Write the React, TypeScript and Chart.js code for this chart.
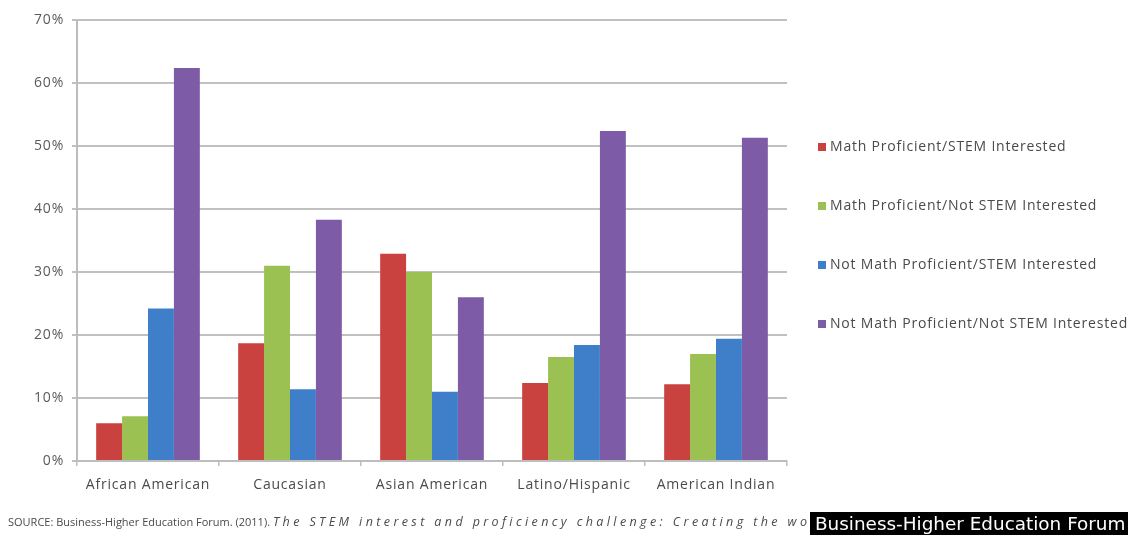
import React, { useEffect, useRef } from "react";
import { Chart, registerables } from "chart.js";

Chart.register(...registerables);

const categories = ["African American", "Caucasian", "Asian American", "Latino/Hispanic", "American Indian"];
const seriesNames = [
  "Math Proficient/STEM Interested",
  "Math Proficient/Not STEM Interested",
  "Not Math Proficient/STEM Interested",
  "Not Math Proficient/Not STEM Interested",
];
const mathStem = [6.0, 18.7, 32.9, 12.4, 12.2];
const mathNotStem = [7.1, 31.0, 30.0, 16.5, 17.0];
const notMathStem = [24.2, 11.4, 11.0, 18.4, 19.4];
const notMathNotStem = [62.4, 38.3, 26.0, 52.4, 51.3];
const seriesColors = ["#C9423F", "#9BC152", "#3F7FC9", "#7E5BA6"];
const yTicks = [0, 10, 20, 30, 40, 50, 60, 70];

const FONT = "'Open Sans', 'DejaVu Sans', sans-serif";

const spacingPlugin = {
  id: "spacing",
  beforeDraw(chart: any) {
    chart.ctx.letterSpacing = "0.8px";
  },
  afterDraw(chart: any) {
    chart.ctx.letterSpacing = "0px";
  },
};

const legendPlugin = {
  id: "customLegend",
  afterDraw(chart: any) {
    const ctx = chart.ctx;
    ctx.save();
    ctx.letterSpacing = "0.8px";
    ctx.font = `14px ${FONT}`;
    ctx.textBaseline = "middle";
    ctx.textAlign = "left";
    chart.data.datasets.forEach((ds: any, i: number) => {
      const y = 147 + i * 59;
      ctx.fillStyle = ds.backgroundColor;
      ctx.fillRect(818, y - 4, 8, 8);
      ctx.fillStyle = "#4a4a4a";
      ctx.fillText(ds.label, 830, y);
    });
    ctx.restore();
  },
};

export default function App() {
  const ref = useRef<HTMLCanvasElement | null>(null);
  useEffect(() => {
    if (!ref.current) return;
    const values = [mathStem, mathNotStem, notMathStem, notMathNotStem];
    const chart = new Chart(ref.current, {
      type: "bar",
      data: {
        labels: categories,
        datasets: seriesNames.map((name, i) => ({
          label: name,
          data: values[i],
          backgroundColor: seriesColors[i],
          borderWidth: 0,
          categoryPercentage: 0.73,
          barPercentage: 1.0,
        })),
      },
      options: {
        responsive: false,
        animation: false,
        devicePixelRatio: 1,
        layout: { padding: { top: 20, right: 341, bottom: 0, left: 0 } },
        plugins: { legend: { display: false }, tooltip: { enabled: false } },
        scales: {
          x: {
            grid: {
              display: true,
              drawOnChartArea: false,
              drawTicks: true,
              tickLength: 5,
              offset: true,
              color: "#BDBDBD",
              lineWidth: 1.5,
            },
            border: { color: "#BDBDBD", width: 2 },
            ticks: {
              color: "#4a4a4a",
              font: { family: FONT, size: 14 },
              padding: 11,
              maxRotation: 0,
            },
            afterFit(scale: any) {
              scale.height = 74;
            },
          },
          y: {
            min: 0,
            max: 70,
            afterBuildTicks(scale: any) {
              scale.ticks = yTicks.map((v) => ({ value: v }));
            },
            grid: {
              color: "#C0C0C0",
              lineWidth: 2,
              tickLength: 5,
            },
            border: { color: "#BDBDBD", width: 2 },
            ticks: {
              color: "#5a5a5a",
              font: { family: FONT, size: 14 },
              padding: 8,
              callback: (v: any) => `${v}%`,
            },
            afterFit(scale: any) {
              scale.width = 77;
            },
          },
        },
      },
      plugins: [spacingPlugin, legendPlugin],
    });
    return () => chart.destroy();
  }, []);

  return (
    <div style={{ position: "absolute", left: 0, top: 0, width: 1128, height: 535, background: "#fff", overflow: "hidden" }}>
      <canvas ref={ref} width={1128} height={535} style={{ position: "absolute", left: 0, top: 0 }} />
      <div
        style={{
          position: "absolute",
          left: 8,
          top: 513,
          fontFamily: FONT,
          fontSize: 11,
          color: "#4a4a4a",
          whiteSpace: "nowrap",
        }}
      >
        SOURCE: Business-Higher Education Forum. (2011).{" "}
        <i style={{ fontSize: 12.5, letterSpacing: "3.4px" }}>
          The STEM interest and proficiency challenge: Creating the workforce of tomorrow
        </i>
      </div>
      <div
        style={{
          position: "absolute",
          left: 810,
          top: 512,
          width: 318,
          height: 23,
          background: "#000",
          color: "#fff",
          fontFamily: "'DejaVu Sans', sans-serif",
          fontSize: 18.4,
          lineHeight: "23px",
          paddingLeft: 5,
          boxSizing: "border-box",
          whiteSpace: "nowrap",
          overflow: "hidden",
        }}
      >
        Business-Higher Education Forum
      </div>
    </div>
  );
}
